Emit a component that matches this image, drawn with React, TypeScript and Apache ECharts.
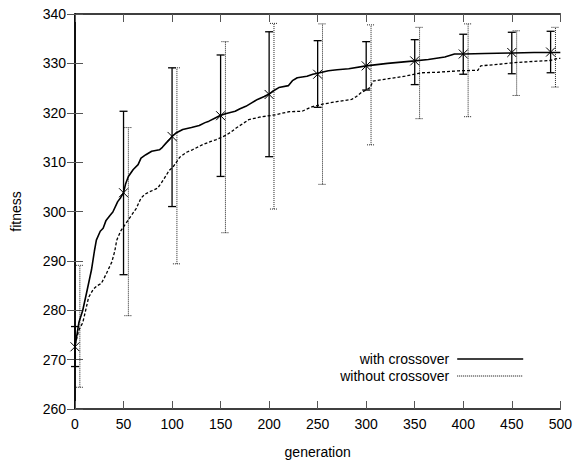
import React, { useEffect, useRef } from "react";
import * as echarts from "echarts";

// curve: generation -> best fitness
const withCrossoverCurve: [number, number][] = [
  [0, 272.6], [2, 275], [4, 277.5], [8, 280], [12, 283.6], [17, 288.2], [20, 292], [22, 294.2],
  [26, 296], [29, 296.6], [32, 298.2], [36, 299.2], [39, 299.9], [44, 302], [47, 302.8], [50, 303.8],
  [52, 305.5], [55, 307.1], [60, 308.5], [65, 309.5], [68, 310.8], [73, 311.5], [79, 312.2], [87, 312.5],
  [90, 313], [94, 313.9], [97, 314.5], [100, 315.2], [105, 316], [111, 316.6], [120, 317], [128, 317.4],
  [134, 318], [138, 318.3], [145, 319], [149, 319.4], [155, 319.8], [165, 320.3], [170, 320.8], [176, 321.3],
  [182, 322], [188, 322.7], [195, 323.3], [200, 323.8], [205, 324.5], [210, 325.1], [220, 325.5], [224, 326.5],
  [229, 327.1], [239, 327.4], [245, 327.8], [250, 328], [261, 328.5], [270, 328.7], [282, 328.9], [300, 329.5],
  [322, 330], [350, 330.5], [364, 330.8], [381, 331.3], [391, 331.9], [401, 331.9], [422, 332], [451, 332.1],
  [473, 332.2], [500, 332.2],
];

const withoutCrossoverCurve: [number, number][] = [
  [0, 273], [4, 276], [8, 277.5], [11, 280], [14, 282.6], [19, 284.3], [23, 285], [27, 285.4],
  [30, 286.5], [33, 287.7], [38, 289.8], [41, 292], [43, 294.2], [47, 296], [50, 296.9], [56, 298.6],
  [63, 300.6], [68, 302.7], [72, 303.5], [77, 304], [85, 304.7], [89, 305.8], [92, 306.7], [97, 308.3],
  [101, 309], [108, 311], [115, 312], [121, 312.5], [131, 313.5], [140, 314.2], [145, 314.5], [155, 315.4],
  [160, 316], [166, 316.9], [173, 317.8], [179, 318.6], [190, 319.1], [207, 319.6], [220, 320.2], [234, 320.3],
  [244, 321.2], [254, 321.7], [271, 322.3], [285, 322.7], [290, 323.3], [295, 324.1], [300, 324.6], [304, 325.1],
  [307, 326.4], [323, 326.9], [340, 327.4], [357, 328.1], [374, 328.2], [395, 328.5], [415, 328.6], [418, 329.5],
  [436, 329.8], [456, 330.2], [473, 330.4], [490, 330.6], [497, 331], [500, 331],
];

// error bars, with crossover
const withBarGens = [0, 50, 100, 150, 200, 250, 300, 350, 400, 450, 490];
const withBarMean = [272.6, 303.8, 315.2, 319.4, 323.7, 327.8, 329.5, 330.5, 331.9, 332.2, 332.3];
const withBarLow = [268.6, 287.2, 301, 307.1, 311.1, 321.1, 324.6, 325.7, 327.8, 327.9, 328.1];
const withBarHigh = [276.7, 320.3, 329.1, 331.7, 336.4, 334.6, 334.4, 334.8, 335.9, 336.3, 336.5];

// error bars, without crossover
const withoutBarGens = [5, 55, 105, 155, 205, 255, 305, 355, 405, 455, 495];
const withoutBarLow = [264.4, 278.9, 289.4, 295.7, 300.5, 305.5, 313.5, 318.8, 319.2, 323.5, 325.2];
const withoutBarHigh = [289.1, 317, 329.1, 334.4, 338.1, 338, 337.8, 337.3, 338, 336.6, 337.3];

const FONT = "'Liberation Sans', Arial, Helvetica, sans-serif";

export default function App() {
  const ref = useRef<HTMLDivElement>(null);
  useEffect(() => {
    const chart = echarts.init(ref.current!, null, { renderer: "svg" });

    const makeBars = (dotted: boolean, withMarker: boolean) => (params: any, api: any) => {
      const x = api.value(0);
      const lo = api.coord([x, api.value(1)]);
      const hi = api.coord([x, api.value(2)]);
      const cap = 4;
      const style: any = dotted
        ? { stroke: "#222", lineWidth: 1, lineDash: [1, 1] }
        : { stroke: "#000", lineWidth: 1.3 };
      const children: any[] = [
        { type: "line", shape: { x1: lo[0], y1: lo[1], x2: hi[0], y2: hi[1] }, style },
        { type: "line", shape: { x1: lo[0] - cap, y1: lo[1], x2: lo[0] + cap, y2: lo[1] }, style },
        { type: "line", shape: { x1: hi[0] - cap, y1: hi[1], x2: hi[0] + cap, y2: hi[1] }, style },
      ];
      if (withMarker) {
        const m = api.coord([x, api.value(3)]);
        const s = 4.5;
        const ms = { stroke: "#000", lineWidth: 1 };
        children.push(
          { type: "line", shape: { x1: m[0] - s, y1: m[1] - s, x2: m[0] + s, y2: m[1] + s }, style: ms },
          { type: "line", shape: { x1: m[0] - s, y1: m[1] + s, x2: m[0] + s, y2: m[1] - s }, style: ms }
        );
      }
      return { type: "group", children };
    };

    const axisLine = { show: true, lineStyle: { color: "#000", width: 1.5 } };
    const axisTick = { show: true, inside: true, length: 8, lineStyle: { color: "#555", width: 1 } };
    const label = { color: "#000", fontSize: 14, fontFamily: FONT };

    chart.setOption({
      animation: false,
      backgroundColor: "#fff",
      grid: { left: 75, right: 12, top: 14, bottom: 55 },
      legend: {
        orient: "vertical",
        right: 46,
        top: 347,
        align: "right",
        itemWidth: 66,
        itemHeight: 14,
        itemGap: 3,
        itemStyle: { color: "rgba(0,0,0,0)", borderWidth: 0, opacity: 0 },
        textStyle: { color: "#000", fontSize: 14, fontFamily: FONT, padding: [0, 3, 0, 0] },
        data: [
          { name: "with crossover", lineStyle: { color: "#000", width: 1.6, type: "solid" } },
          { name: "without crossover", lineStyle: { color: "#000", width: 1, type: [1, 1] } },
        ],
      },
      xAxis: [
        {
          type: "value", min: 0, max: 500, interval: 50,
          name: "generation", nameLocation: "middle", nameGap: 36,
          nameTextStyle: { color: "#000", fontSize: 14, fontFamily: FONT },
          axisLine, axisTick, axisLabel: { ...label, margin: 8 }, splitLine: { show: false },
        },
        {
          type: "value", position: "top", min: 0, max: 500, interval: 50,
          axisLine, axisTick, axisLabel: { show: false }, splitLine: { show: false },
        },
      ],
      yAxis: [
        {
          type: "value", min: 260, max: 340, interval: 10,
          name: "fitness", nameLocation: "middle", nameGap: 52,
          nameTextStyle: { color: "#000", fontSize: 14, fontFamily: FONT },
          axisLine, axisTick, axisLabel: { ...label, margin: 9 }, splitLine: { show: false },
        },
        {
          type: "value", position: "right", min: 260, max: 340, interval: 10,
          axisLine, axisTick, axisLabel: { show: false }, splitLine: { show: false },
        },
      ],
      series: [
        {
          name: "with crossover", type: "line", data: withCrossoverCurve, symbol: "none",
          lineStyle: { color: "#000", width: 1.6 }, itemStyle: { color: "#000" },
        },
        {
          name: "without crossover", type: "line", data: withoutCrossoverCurve, symbol: "none",
          lineStyle: { color: "#000", width: 1.3, type: [3, 2] }, itemStyle: { color: "#000" },
        },
        {
          name: "with bars", type: "custom",
          data: withBarGens.map((g, i) => [g, withBarLow[i], withBarHigh[i], withBarMean[i]]),
          renderItem: makeBars(false, true),
        },
        {
          name: "without bars", type: "custom",
          data: withoutBarGens.map((g, i) => [g, withoutBarLow[i], withoutBarHigh[i]]),
          renderItem: makeBars(true, false),
        },
      ],
    });
    return () => chart.dispose();
  }, []);
  return <div ref={ref} style={{ position: "absolute", left: 0, top: 0, width: 575, height: 464 }} />;
}
